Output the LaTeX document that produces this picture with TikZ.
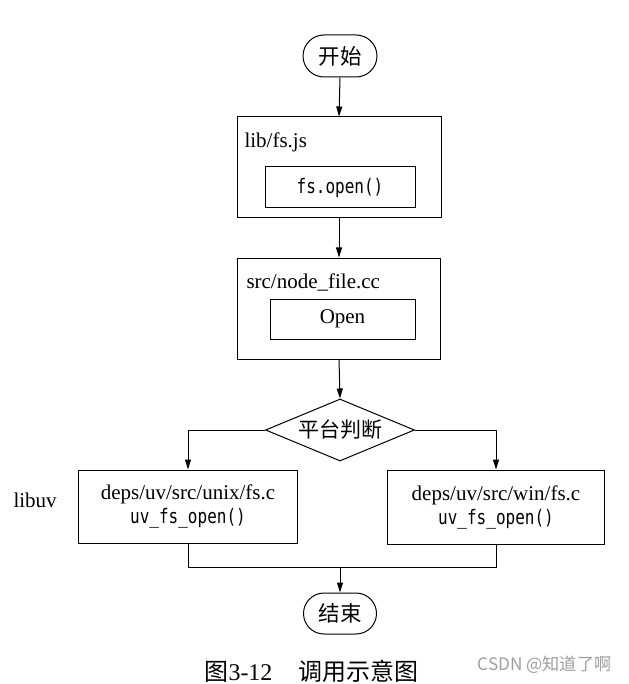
\documentclass[tikz,border=0pt]{standalone}
\usepackage{fontspec}
\setmainfont{Liberation Serif}
\newfontfamily\cjk{Noto Sans CJK SC}
\newfontfamily\monof[FakeStretch=0.8]{DejaVu Sans Mono}
\usetikzlibrary{shapes.geometric,shapes.misc,arrows.meta}
\begin{document}
\begin{tikzpicture}[x=1pt,y=-1pt,
  line width=1pt,
  font=\fontsize{21}{25}\selectfont,
  arr/.style={-{Triangle[length=10pt,width=6pt]}},
  term/.style={draw,rounded rectangle,inner sep=0pt,font=\cjk\fontsize{21.5}{24}\selectfont},
  outerbox/.style={draw,rectangle,inner sep=0pt},
  innerbox/.style={draw,rectangle,inner sep=0pt},
  decide/.style={draw,diamond,inner sep=0pt,shape aspect=2.4,minimum width=149pt,minimum height=62pt,font=\cjk\fontsize{21}{24}\selectfont},
  codetxt/.style={font=\monof\fontsize{20}{22}\selectfont},
  lbl/.style={anchor=west,inner sep=0pt}
]
\useasboundingbox (0,0) rectangle (628,684);

% start
\node[term,minimum width=74pt,minimum height=42pt] (start) at (340,56) {开始};

% lib/fs.js
\node[outerbox,minimum width=204pt,minimum height=101pt] (js) at (339,167.5) {};
\node[lbl] (jslbl) at (244,142) {lib/fs.js};
\node[innerbox,minimum width=150pt,minimum height=41pt,codetxt] (jsopen) at (340,187.5) {fs.open()};

% src/node_file.cc
\node[outerbox,minimum width=203pt,minimum height=101pt] (cc) at (339,308.5) {};
\node[lbl] (cclbl) at (246,282) {src/node\_file.cc};
\node[innerbox,minimum width=145pt,minimum height=40pt] (ccopen) at (342.5,319) {Open};

% decision
\node[decide] (dec) at (340,430) {平台判断};

% libuv boxes
\node[lbl] (libuv) at (13,500) {libuv};
\node[outerbox,minimum width=219pt,minimum height=73pt,align=center] (unix) at (188,506.5)
  {deps/uv/src/unix/fs.c\\[-1pt]{\monof\fontsize{20}{22}\selectfont uv\_fs\_open()}};
\node[outerbox,minimum width=217pt,minimum height=74pt,align=center] (win) at (496,507)
  {deps/uv/src/win/fs.c\\[-1pt]{\monof\fontsize{20}{22}\selectfont uv\_fs\_open()}};

% end
\coordinate (merge) at (340,567);
\node[term,minimum width=73pt,minimum height=41pt] (stop) at (340,613.5) {结束};

% connectors
\draw[arr] (start.south) -- (js.north);
\draw[arr] (js.south) -- (cc.north);
\draw[arr] (cc.south) -- (dec.north);
\draw[arr] (dec.west) -| (unix.north);
\draw[arr] (dec.east) -| (win.north);
\draw (unix.south) |- (merge);
\draw (win.south) |- (merge);
\draw[arr] (merge) -- (stop.north);

% caption
\node[lbl,font=\fontsize{24}{28}\selectfont] (cap) at (204,671)
  {{\cjk 图}3-12\hspace{26pt}{\cjk 调用示意图}};
\node[lbl,text=black!38,font=\cjk\fontsize{17.2}{20}\selectfont] (wm) at (477,665) {CSDN @知道了啊};
\end{tikzpicture}
\end{document}
